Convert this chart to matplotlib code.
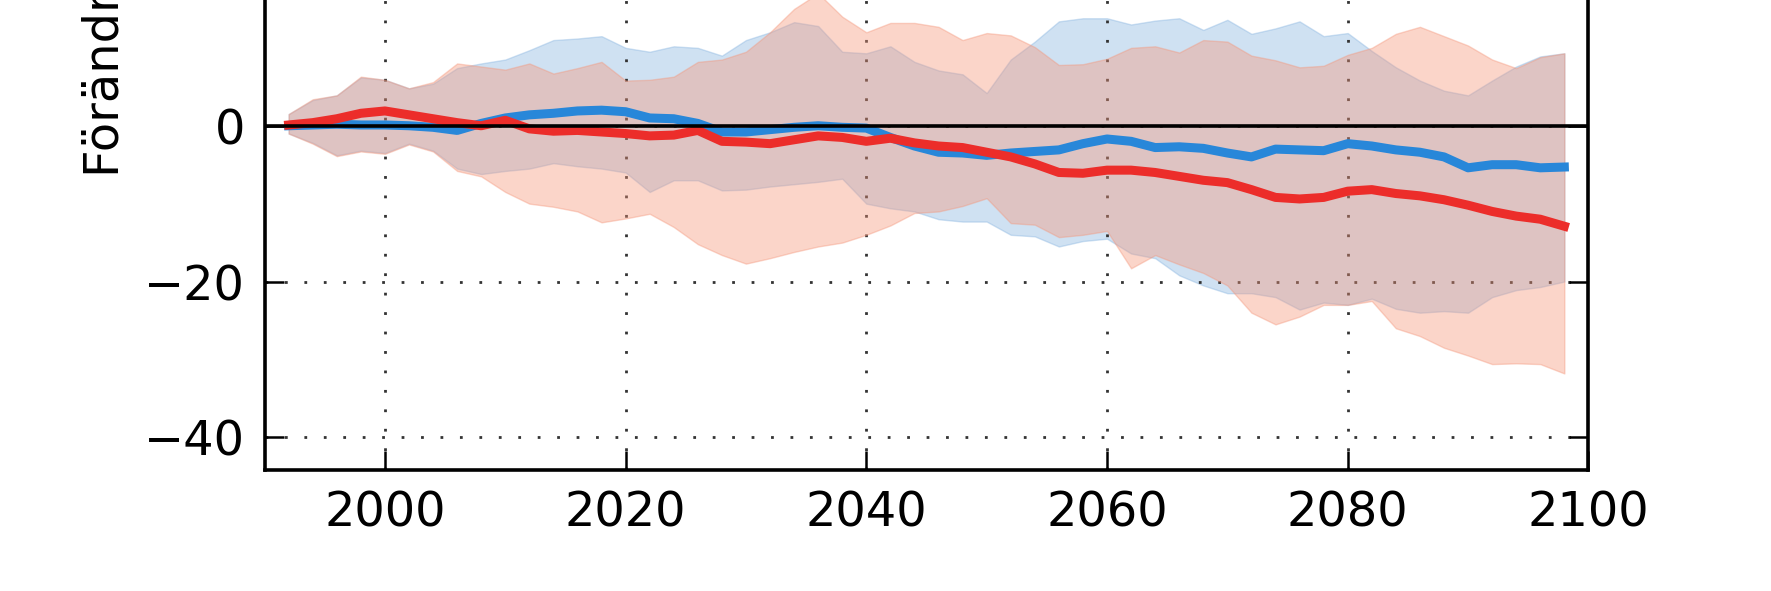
import numpy as np
import matplotlib
matplotlib.use("Agg")
import matplotlib.pyplot as plt

# år (vartannat år)
years = np.arange(1992, 2099, 2)

# medelvärden
blue_mean = [0.0, 0.1, 0.2, 0.1, 0.1, 0.0, -0.2, -0.6, 0.3, 1.0,
             1.4, 1.6, 1.9, 2.0, 1.8, 1.0, 0.9, 0.3, -0.8, -0.8,
             -0.5, -0.2, 0.0, -0.2, -0.3, -1.5, -2.6, -3.4, -3.5, -3.8,
             -3.5, -3.3, -3.1, -2.3, -1.7, -2.0, -2.8, -2.7, -2.9, -3.5,
             -4.0, -3.0, -3.1, -3.2, -2.3, -2.6, -3.1, -3.4, -4.0, -5.4,
             -5.0, -5.0, -5.4, -5.3]
red_mean = [0.1, 0.4, 0.9, 1.6, 1.9, 1.4, 0.9, 0.4, 0.0, 0.7,
            -0.4, -0.7, -0.6, -0.8, -1.0, -1.3, -1.2, -0.6, -2.0, -2.1,
            -2.3, -1.8, -1.3, -1.5, -2.0, -1.6, -2.2, -2.6, -2.8, -3.4,
            -4.0, -4.9, -6.0, -6.1, -5.7, -5.7, -6.0, -6.5, -7.0, -7.3,
            -8.2, -9.2, -9.4, -9.2, -8.4, -8.2, -8.7, -9.0, -9.5, -10.2,
            -11.0, -11.6, -12.0, -12.9]

# spridning (övre / undre gräns)
blue_upper = [1.5, 3.3, 3.9, 6.2, 5.9, 4.8, 5.4, 7.4, 8.0, 8.5,
              9.7, 11.0, 11.2, 11.5, 10.0, 9.5, 10.2, 10.0, 9.0, 11.0,
              12.0, 13.3, 12.8, 9.5, 9.3, 10.2, 8.2, 7.1, 6.6, 4.2,
              8.5, 10.8, 13.4, 13.8, 13.8, 13.0, 13.5, 13.8, 12.3, 13.6,
              11.8, 12.5, 13.4, 11.5, 11.9, 9.6, 7.5, 5.8, 4.5, 3.9,
              5.8, 7.6, 8.9, 9.3]
blue_lower = [-1.0, -2.2, -3.8, -3.2, -3.5, -2.3, -3.2, -5.5, -6.2, -5.8,
              -5.5, -4.8, -5.2, -5.5, -6.0, -8.5, -7.0, -7.0, -8.3, -8.2,
              -7.8, -7.5, -7.2, -6.8, -10.0, -10.6, -11.0, -12.0, -12.3, -12.3,
              -14.0, -14.2, -15.5, -14.8, -14.5, -16.4, -17.0, -19.2, -20.5, -21.5,
              -21.5, -22.0, -23.6, -22.7, -23.0, -22.2, -23.5, -24.0, -23.8, -24.0,
              -22.0, -21.1, -20.7, -20.0]
red_upper = [1.5, 3.4, 3.9, 6.3, 5.9, 4.8, 5.6, 8.0, 7.6, 7.2,
             8.0, 6.7, 7.4, 8.2, 5.8, 5.9, 6.3, 8.2, 8.5, 9.5,
             12.0, 15.0, 17.0, 14.0, 12.0, 13.2, 13.2, 12.7, 11.0, 11.9,
             11.6, 10.1, 7.8, 7.9, 8.6, 10.0, 10.2, 9.4, 11.0, 10.8,
             9.0, 8.4, 7.5, 7.7, 9.1, 10.0, 11.8, 12.7, 11.5, 10.3,
             8.5, 7.4, 8.8, 9.3]
red_lower = [-1.0, -2.3, -3.9, -3.3, -3.6, -2.4, -3.3, -5.8, -6.5, -8.5,
             -10.0, -10.4, -11.0, -12.4, -11.9, -11.3, -13.0, -15.2, -16.6, -17.7,
             -17.0, -16.2, -15.5, -15.0, -14.0, -12.8, -11.2, -11.0, -10.3, -9.3,
             -12.5, -12.7, -14.3, -14.0, -13.5, -18.3, -16.6, -17.8, -18.9, -20.5,
             -24.0, -25.5, -24.5, -23.0, -23.0, -22.5, -26.0, -27.0, -28.5, -29.5,
             -30.6, -30.5, -30.6, -31.8]

x_ticks = [2000, 2020, 2040, 2060, 2080, 2100]
y_ticks = [-40, -20, 0]

blue_line = '#2887d9'
red_line = '#ec2d2a'
blue_fill = '#87b4e0'
red_fill = '#f5967a'

plt.rcParams['font.family'] = ['DejaVu Sans']
plt.rcParams['font.size'] = 34.5

fig = plt.figure(figsize=(17.71, 5.91), dpi=100)
# axeln sticker ut ovanför figuren (beskuren förlaga)
ax = fig.add_axes([0.1494, 0.2047, 0.7475, 0.9779])

ax.fill_between(years, blue_lower, blue_upper, color=blue_fill, alpha=0.4, zorder=1)
ax.fill_between(years, red_lower, red_upper, color=red_fill, alpha=0.4, zorder=2)
ax.plot(years, blue_mean, color=blue_line, lw=6.5, zorder=3)
ax.plot(years, red_mean, color=red_line, lw=6.5, zorder=4)
ax.axhline(0, color='black', lw=2.6, zorder=5)

ax.set_xlim(1990, 2100)
ax.set_ylim(-44.2, 30)
ax.set_xticks(x_ticks)
ax.set_yticks(y_ticks)
ax.set_yticklabels(['\u2212' + str(abs(v)) if v < 0 else str(v) for v in y_ticks])

ax.grid(True, color='#333333', linestyle=(0, (1, 6)), linewidth=2.0)
ax.tick_params(direction='in', length=14, width=1.8, pad=14,
               top=True, right=True, labelsize=34.5)
for sp in ax.spines.values():
    sp.set_linewidth(2.6)

fig.text(0.0593, 0.7005, 'Förändring (%)', rotation=90,
         ha='center', va='bottom', fontsize=34.5)

fig.savefig('out.png', dpi=100)
